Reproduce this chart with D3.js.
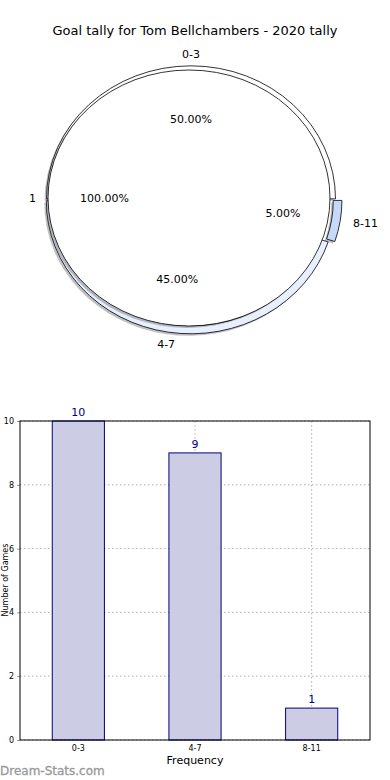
<!DOCTYPE html>
<html>
<head>
<meta charset="utf-8">
<script src="https://cdn.jsdelivr.net/npm/d3@7"></script>
<style>
  body { margin: 0; background: #fff; }
  svg { display: block; font-family: "DejaVu Sans", sans-serif; }
</style>
</head>
<body>
<svg id="chart" width="390" height="780"></svg>
<script>
// data
const title = "Goal tally for Tom Bellchambers - 2020 tally"
const categories = ["0-3", "4-7", "8-11"]
const counts = [10, 9, 1]
const innerLabels = ["1"]
const innerValues = [20]
const ringColors = ["#ffffff", "#e8efff", "#c6d9f8"]
const explode = [0.005, 0.01, 0.045]
const yTicks = [0, 2, 4, 6, 8, 10]

const svg = d3.select("#chart")

svg.append("text")
    .attr("x", 195).attr("y", 35)
    .attr("text-anchor", "middle")
    .attr("font-size", 13)
    .text(title)

// ---------- pie ----------
const total = d3.sum(counts)
// matplotlib style: start at east, go counter-clockwise
const pie = d3.pie().sort(null).startAngle(Math.PI / 2).endAngle(Math.PI / 2 - 2 * Math.PI)

const ringArc = d3.arc().innerRadius(0.94).outerRadius(1)
const ring = {cx: 191, cy: 199.5, rx: 144.5, ry: 133}
const inner = {cx: 189, cy: 198, rx: 141, ry: 128}

const polar = (a, r) => [Math.sin(a) * r, -Math.cos(a) * r]

const ringData = pie(counts)

function wedgeGroup(parent, geo, d, i, dx, dy) {
    const mid = (d.startAngle + d.endAngle) / 2
    const [ox, oy] = polar(mid, explode[i] || 0)
    return parent.append("g")
        .attr("transform", `translate(${geo.cx + dx + ox * geo.rx}, ${geo.cy + dy + oy * geo.ry}) scale(${geo.rx}, ${geo.ry})`)
}

const shadowG = svg.append("g")
ringData.forEach((d, i) => {
    wedgeGroup(shadowG, ring, d, i, -2, 2).append("path")
        .attr("d", ringArc(d))
        .attr("fill", "#4d4d4d").attr("opacity", 0.35)
})
const ringG = svg.append("g")
ringData.forEach((d, i) => {
    wedgeGroup(ringG, ring, d, i, 0, 0).append("path")
        .attr("d", ringArc(d))
        .attr("fill", ringColors[i])
        .attr("stroke", "#000").attr("stroke-width", 0.8)
        .attr("vector-effect", "non-scaling-stroke")
})

// inner pie, one wedge, drawn on top like matplotlib does
const innerPie = d3.pie().sort(null).startAngle(Math.PI / 2).endAngle(Math.PI / 2 + 2 * Math.PI)
const innerData = innerPie(innerValues)
const innerArc = d3.arc().innerRadius(0).outerRadius(1)
svg.append("ellipse")
    .attr("cx", inner.cx - 2).attr("cy", inner.cy + 2)
    .attr("rx", inner.rx).attr("ry", inner.ry)
    .attr("fill", "#4d4d4d").attr("opacity", 0.35)
innerData.forEach(d => {
    svg.append("g")
        .attr("transform", `translate(${inner.cx}, ${inner.cy}) scale(${inner.rx}, ${inner.ry})`)
        .append("path")
        .attr("d", innerArc(d))
        .attr("fill", "#fff")
        .attr("stroke", "#000").attr("stroke-width", 0.8)
        .attr("vector-effect", "non-scaling-stroke")
})

// labels
const lab = svg.append("g").attr("font-size", 11).attr("text-anchor", "middle")
ringData.forEach((d, i) => {
    const mid = (d.startAngle + d.endAngle) / 2
    const ex = explode[i]
    const [lx, ly] = polar(mid, 1.09 + ex)
    const [px, py] = polar(mid, 0.6 + ex)
    lab.append("text")
        .attr("x", ring.cx + lx * ring.rx)
        .attr("y", ring.cy + ly * ring.ry)
        .attr("dy", "0.35em")
        .attr("text-anchor", lx > 0.3 ? "start" : lx < -0.3 ? "end" : "middle")
        .text(categories[i])
    lab.append("text")
        .attr("x", ring.cx + px * ring.rx)
        .attr("y", ring.cy + py * ring.ry)
        .attr("dy", "0.35em")
        .text((d.value / total * 100).toFixed(2) + "%")
})
innerData.forEach((d, i) => {
    const mid = (d.startAngle + d.endAngle) / 2
    const [lx, ly] = polar(mid, 1.1)
    const [px, py] = polar(mid, 0.6)
    lab.append("text")
        .attr("x", inner.cx + lx * inner.rx + 2)
        .attr("y", inner.cy + ly * inner.ry)
        .attr("dy", "0.35em").attr("text-anchor", "end")
        .text(innerLabels[i])
    lab.append("text")
        .attr("x", inner.cx + px * inner.rx)
        .attr("y", inner.cy + py * inner.ry)
        .attr("dy", "0.35em")
        .text((d.value / d3.sum(innerValues) * 100).toFixed(2) + "%")
})

// ---------- bar chart ----------
const m = {left: 20, right: 370, top: 421, bottom: 740}
const x = d3.scaleBand().domain(categories).range([m.left, m.right])
const y = d3.scaleLinear().domain([0, 10]).range([m.bottom, m.top])
const barW = x.bandwidth() * 0.447

const grid = svg.append("g").attr("stroke", "#b0b0b0").attr("stroke-dasharray", "1.5,2.5").attr("stroke-width", 1)
yTicks.forEach(t => {
    grid.append("line").attr("x1", m.left).attr("x2", m.right).attr("y1", y(t)).attr("y2", y(t))
})

svg.selectAll(".bar").data(counts).enter().append("rect")
    .attr("class", "bar")
    .attr("x", (d, i) => x(categories[i]) + x.bandwidth() / 2 - barW / 2)
    .attr("y", d => y(d))
    .attr("width", barW)
    .attr("height", d => y(0) - y(d))
    .attr("fill", "#ccccE5")
    .attr("stroke", "#000080").attr("stroke-width", 1)

categories.forEach(c => {
    grid.append("line").attr("x1", x(c) + x.bandwidth() / 2).attr("x2", x(c) + x.bandwidth() / 2)
        .attr("y1", m.top).attr("y2", m.bottom)
})

svg.selectAll(".val").data(counts).enter().append("text")
    .attr("class", "val")
    .attr("x", (d, i) => x(categories[i]) + x.bandwidth() / 2)
    .attr("y", d => y(d) - 5)
    .attr("text-anchor", "middle")
    .attr("font-size", 11)
    .attr("fill", "#000080")
    .text(d => d)

svg.append("g")
    .attr("transform", `translate(${m.left},0)`)
    .call(d3.axisLeft(y).tickValues(yTicks).tickSize(3).tickPadding(3))
    .call(g => g.select(".domain").remove())
    .call(g => g.selectAll("line").attr("stroke", "#999"))
    .call(g => g.selectAll("text").attr("font-size", 8).attr("font-family", "DejaVu Sans"))

svg.append("g")
    .attr("transform", `translate(0,${m.bottom})`)
    .call(d3.axisBottom(x).tickSize(0).tickPadding(5))
    .call(g => g.select(".domain").remove())
    .call(g => g.selectAll("text").attr("font-size", 8).attr("font-family", "DejaVu Sans"))

svg.append("rect")
    .attr("x", m.left).attr("y", m.top)
    .attr("width", m.right - m.left).attr("height", m.bottom - m.top)
    .attr("fill", "none").attr("stroke", "#000").attr("stroke-width", 1)

svg.append("text")
    .attr("x", 195).attr("y", 764)
    .attr("text-anchor", "middle").attr("font-size", 11)
    .text("Frequency")

svg.append("text")
    .attr("transform", "translate(8,580) rotate(-90)")
    .attr("text-anchor", "middle").attr("font-size", 8)
    .text("Number of Games")

svg.append("text")
    .attr("x", 0).attr("y", 775)
    .attr("font-size", 12)
    .attr("fill", "#999")
    .attr("stroke", "#999").attr("stroke-width", 0.3)
    .text("Dream-Stats.com")
</script>
</body>
</html>
